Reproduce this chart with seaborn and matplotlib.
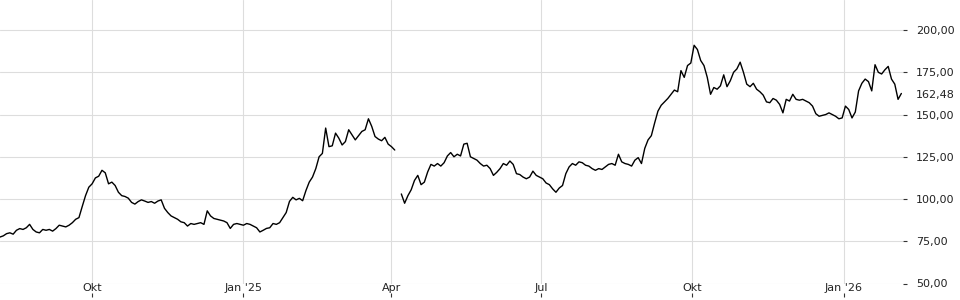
import numpy as np
import pandas as pd
import matplotlib
matplotlib.use("Agg")
import matplotlib.pyplot as plt
import matplotlib.dates as mdates
import matplotlib.ticker as mticker
import seaborn as sns

# ---- data ----
start_date = "2024-08-06"   # first sample, samples every 2 calendar days
close = [
    77.5, 78.2, 79.5, 80.0, 79.2, 81.5, 82.5, 82.0, 83.0, 85.0,
    82.0, 80.5, 80.0, 82.0, 81.5, 82.0, 81.0, 82.5, 84.5, 84.0,
    83.5, 84.5, 86.0, 88.0, 89.0, 95.6, 102.0, 107.0, 109.0, 112.5,
    113.5, 117.0, 115.5, 109.0, 110.0, 108.0, 104.0, 102.0, 101.5, 100.5,
    98.0, 97.0, 98.5, 99.5, 98.8, 98.0, 98.5, 97.5, 98.8, 99.5,
    94.5, 92.0, 90.0, 89.0, 88.0, 86.5, 86.0, 84.0, 85.5, 85.0,
    85.5, 86.0, 85.0, 93.0, 90.0, 88.5, 88.0, 87.5, 87.0, 86.0,
    82.6, 85.0, 85.5, 85.0, 84.5, 85.5, 85.0, 84.0, 83.0, 80.5,
    81.5, 82.6, 83.0, 85.5, 85.0, 86.0, 89.0, 92.0, 98.6, 101.0,
    99.5, 100.4, 99.0, 105.0, 110.0, 113.0, 118.0, 125.0, 127.0, 142.0,
    131.0, 131.5, 139.0, 136.0, 132.0, 134.0, 141.0, 138.0, 135.0, 137.5,
    140.0, 141.0, 147.5, 143.0, 137.0, 135.5, 134.5, 136.5, 132.5, 131.0,
    129.0, np.nan, 103.0, 97.5, 102.0, 105.5, 111.0, 114.0, 108.5, 110.0,
    116.0, 120.5, 119.5, 121.0, 119.5, 121.5, 125.5, 127.5, 125.0, 126.5,
    125.5, 132.5, 133.0, 125.0, 124.0, 123.0, 121.0, 119.5, 120.0, 118.0,
    114.0, 115.8, 118.0, 121.0, 120.0, 122.5, 120.5, 115.0, 114.5, 113.0,
    112.0, 113.0, 116.5, 114.0, 113.0, 112.0, 109.5, 108.5, 106.0, 104.0,
    106.5, 108.0, 115.0, 119.0, 121.0, 120.0, 122.0, 121.5, 120.0, 119.5,
    118.0, 117.0, 118.0, 117.5, 119.0, 120.5, 121.0, 120.0, 126.5, 122.0,
    121.0, 120.5, 119.5, 123.0, 124.5, 121.0, 130.0, 135.0, 137.5, 145.0,
    152.0, 155.5, 157.5, 159.5, 162.0, 164.5, 163.5, 176.0, 172.0, 179.0,
    180.5, 191.0, 188.5, 182.0, 179.0, 172.0, 162.0, 166.0, 165.0, 167.0,
    173.5, 166.5, 170.0, 175.0, 177.0, 181.0, 175.0, 168.0, 166.5, 168.5,
    165.0, 163.5, 161.5, 157.5, 157.0, 159.5, 158.5, 156.0, 151.0, 159.0,
    158.0, 162.0, 159.0, 158.5, 159.0, 158.0, 157.0, 155.0, 150.5, 149.0,
    149.5, 150.0, 151.0, 150.0, 149.0, 147.5, 148.0, 155.0, 153.0, 148.0,
    151.5, 164.0, 168.5, 171.0, 169.5, 164.0, 179.5, 175.0, 174.0, 176.5,
    178.5, 171.0, 168.0, 159.0, 162.48,
]
tick_dates = ["2024-10-01", "2025-01-01", "2025-04-01", "2025-07-01", "2025-10-01", "2026-01-01"]
tick_labels = ["Okt", "Jan '25", "Apr", "Jul", "Okt", "Jan '26"]
y_ticks = [50, 75, 100, 125, 150, 175, 200]

# ---- frame ----
df = pd.DataFrame({
    "date": pd.date_range(start_date, periods=len(close), freq="2D"),
    "close": close,
})
df["seg"] = df["close"].isna().cumsum()
df = df.dropna()

sns.set_theme(style="white")
plt.rcParams["font.family"] = ["DejaVu Sans"]

fig = plt.figure(figsize=(9.6, 3), dpi=100)
ax = fig.add_axes([0, 16.5 / 300, 903 / 960, 283.5 / 300])

sns.lineplot(data=df, x="date", y="close", units="seg", estimator=None,
             color="black", lw=1.0, ax=ax, legend=False)

ax.set_xlim(pd.Timestamp("2024-08-06"), pd.Timestamp("2026-02-06"))
ax.set_ylim(50, 217.8)
ax.set_xlabel("")
ax.set_ylabel("")

tick_pos = mdates.date2num(pd.to_datetime(tick_dates))
ax.set_xticks(tick_pos)
ax.set_xticklabels(tick_labels)
ax.set_yticks(y_ticks)
ax.yaxis.tick_right()
ax.yaxis.set_major_formatter(mticker.FuncFormatter(lambda v, p: f"{v:.2f}".replace(".", ",")))

ax.grid(True, color="#dddddd", lw=0.8)
for s in ax.spines.values():
    s.set_visible(False)

ax.tick_params(axis="y", length=3, width=0.8, pad=6.5, color="#333333",
               labelsize=8, labelcolor="#222222", direction="out")
ax.tick_params(axis="x", length=0, pad=-0.5, labelsize=8, labelcolor="#222222")

sec = ax.secondary_xaxis(-9.5 / 283.5)
sec.set_xticks(tick_pos)
sec.set_xticklabels([""] * len(tick_pos))
sec.tick_params(length=3, width=0.8, color="#333333")
for s in sec.spines.values():
    s.set_visible(False)

last = close[-1]
ax.annotate(f"{last:.2f}".replace(".", ","), xy=(1, last),
            xycoords=("axes fraction", "data"), xytext=(9.4, -1.2),
            textcoords="offset points", ha="left", va="center",
            fontsize=8, color="#222222", annotation_clip=False)

fig.savefig("out.png", dpi=100)
